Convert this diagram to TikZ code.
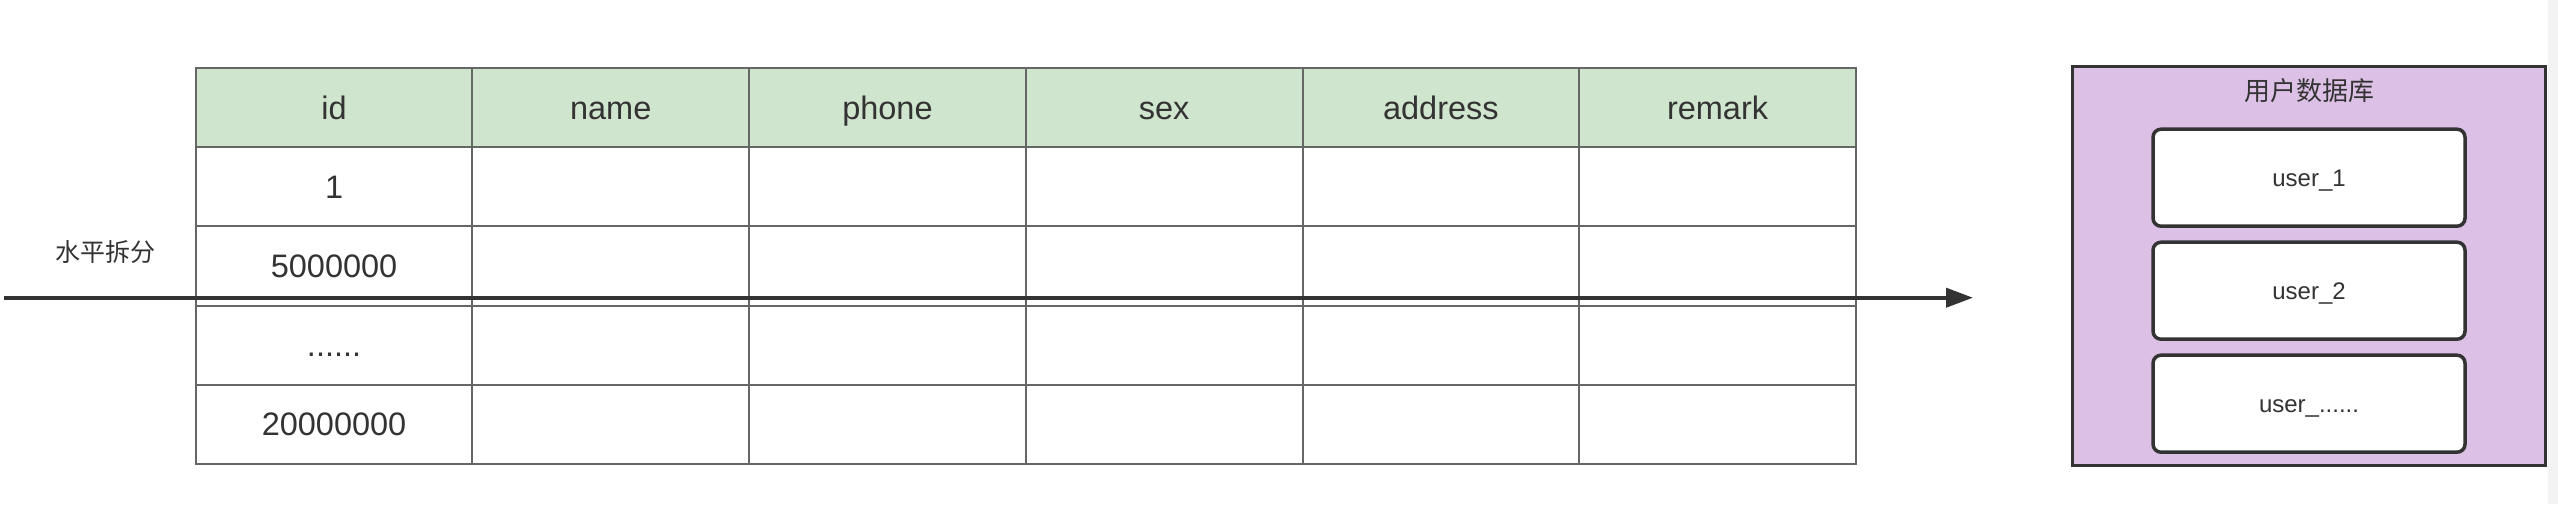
\documentclass[tikz,border=0pt]{standalone}
\usepackage{fontspec}
\setmainfont{Liberation Sans}
\newfontfamily\cjk{Noto Sans CJK SC}
\usetikzlibrary{arrows.meta}
\definecolor{hdr}{HTML}{D0E5CD}
\definecolor{gridc}{HTML}{666666}
\definecolor{ink}{HTML}{333333}
\definecolor{dbfill}{HTML}{DCC0E5}
\definecolor{strip}{HTML}{F3F3F3}
\newcommand{\mydots}{......}
\tikzset{
  cell/.style={draw=gridc, line width=2pt, minimum width=276.7pt, minimum height=79.2pt,
    inner sep=0pt, outer sep=0pt, font=\fontsize{32.5}{38}\selectfont, text=ink, fill=white,
    text height=23pt, text depth=0pt},
  hcell/.style={cell, fill=hdr},
  dbbox/.style={draw=ink, line width=3pt, fill=dbfill, minimum width=472.3pt,
    minimum height=398.3pt, inner sep=0pt, outer sep=0pt},
  tbl/.style={draw=ink, line width=3.5pt, fill=white, rounded corners=8pt,
    minimum width=312pt, minimum height=97pt, inner sep=0pt, outer sep=0pt,
    font=\fontsize{24}{29}\selectfont, text=ink, text height=17.5pt, text depth=0pt},
  lbl/.style={text=ink, inner sep=0pt},
  splitarrow/.style={draw=ink, line width=4pt, -{Triangle[length=27pt,width=19pt]}}
}
\begin{document}
\begin{tikzpicture}[x=1pt,y=-1pt]
\useasboundingbox (0,0) rectangle (2558,504);
\fill[strip] (2548,0) rectangle (2558,504);
% header
\foreach \t [count=\i from 0] in {id,name,phone,sex,address,remark}{
  \pgfmathsetmacro{\cx}{195.7+276.7*(\i+0.5)}
  \node[hcell] (h\i) at (\cx,107.6) {\t};
}
% body
\foreach \t [count=\j from 1] in {1,5000000,\mydots,20000000}{
  \foreach \i in {0,...,5}{
    \pgfmathsetmacro{\cx}{195.7+276.7*(\i+0.5)}
    \pgfmathsetmacro{\cy}{68+79.2*(\j+0.5)}
    \ifnum\i=0
      \node[cell] (c\j\i) at (\cx,\cy) {\t};
    \else
      \node[cell] (c\j\i) at (\cx,\cy) {};
    \fi
  }
}
% split arrow
\coordinate (as) at (4,297.7);
\coordinate (ae) at (1973,297.7);
\draw[splitarrow] (as) -- (ae);
\node[lbl, font=\cjk\fontsize{25}{30}\selectfont] (split) at (105,252) {水平拆分};
% database
\node[dbbox] (db) at (2308.85,265.85) {};
\node[lbl, font=\cjk\fontsize{26}{31}\selectfont] (dbt) at (2309,91) {用户数据库};
\node[tbl] (u1) at (2309,177.7) {user\_1};
\node[tbl] (u2) at (2309,290.7) {user\_2};
\node[tbl] (u3) at (2309,403.7) {user\_\mydots};
\end{tikzpicture}
\end{document}
